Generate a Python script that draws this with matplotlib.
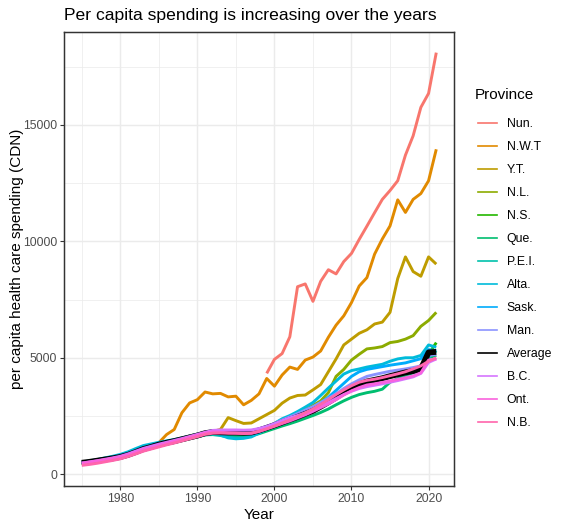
import matplotlib
matplotlib.use("Agg")
import matplotlib.pyplot as plt
from matplotlib.lines import Line2D
import numpy as np

plt.rcParams['font.family'] = ['Liberation Sans', 'DejaVu Sans']

years = list(range(1975, 2022))
nan = float('nan')

# per capita spending, 1975..2021
nun = [nan] * 24 + [4330, 4930, 5180, 5900, 8050, 8170, 7420, 8280, 8780, 8600,
                    9130, 9480, 10080, 10650, 11230, 11800, 12180, 12600, 13700,
                    14530, 15750, 16350, 18100]
nwt = [480, 530, 590, 650, 720, 800, 900, 1020, 1120, 1220,
       1350, 1700, 1920, 2640, 3060, 3200, 3530, 3450, 3470, 3320,
       3350, 2980, 3170, 3450, 4110, 3780, 4260, 4600, 4500, 4900,
       5030, 5290, 5880, 6400, 6800, 7370, 8080, 8440, 9450, 10100,
       10660, 11780, 11240, 11800, 12050, 12600, 13950]
yt = [510, 560, 620, 680, 740, 810, 900, 1020, 1140, 1230,
      1320, 1400, 1470, 1550, 1640, 1720, 1800, 1840, 1920, 2430,
      2300, 2180, 2200, 2380, 2560, 2740, 3050, 3270, 3380, 3400,
      3620, 3850, 4400, 4950, 5550, 5800, 6050, 6200, 6450, 6530,
      6950, 8400, 9330, 8700, 8500, 9330, 9020]
nl = [460, 510, 560, 620, 680, 750, 850, 970, 1090, 1180,
      1270, 1350, 1430, 1510, 1590, 1670, 1750, 1780, 1760, 1740,
      1740, 1750, 1790, 1900, 2030, 2180, 2330, 2480, 2620, 2760,
      2950, 3150, 3500, 4200, 4500, 4900, 5150, 5380, 5420, 5480,
      5650, 5700, 5800, 5950, 6350, 6600, 6950]
ns = [450, 500, 550, 600, 650, 720, 810, 930, 1060, 1150,
      1240, 1320, 1390, 1470, 1550, 1630, 1720, 1740, 1700, 1640,
      1610, 1630, 1700, 1800, 1950, 2080, 2200, 2330, 2470, 2600,
      2750, 2920, 3100, 3300, 3520, 3700, 3880, 4000, 4060, 4120,
      4200, 4250, 4330, 4420, 4550, 5150, 5650]
que = [470, 510, 560, 610, 660, 720, 800, 920, 1040, 1120,
       1210, 1290, 1360, 1440, 1520, 1600, 1690, 1720, 1700, 1680,
       1660, 1640, 1660, 1740, 1850, 1960, 2070, 2170, 2280, 2400,
       2520, 2650, 2800, 2980, 3150, 3300, 3420, 3500, 3560, 3650,
       3950, 4100, 4250, 4350, 4450, 5000, 5100]
pei = [460, 510, 570, 630, 690, 760, 860, 990, 1110, 1190,
       1270, 1330, 1400, 1470, 1540, 1610, 1690, 1700, 1660, 1600,
       1560, 1570, 1640, 1780, 1920, 2050, 2200, 2340, 2480, 2620,
       2780, 2960, 3150, 3360, 3560, 3740, 3880, 3960, 4020, 4090,
       4190, 4300, 4400, 4500, 4650, 5000, 5300]
alta = [520, 570, 630, 700, 770, 850, 960, 1100, 1230, 1300,
        1370, 1430, 1490, 1560, 1640, 1720, 1800, 1780, 1680, 1560,
        1520, 1540, 1600, 1760, 1960, 2180, 2380, 2520, 2690, 2880,
        3080, 3380, 3700, 4000, 4300, 4450, 4520, 4600, 4660, 4720,
        4850, 4950, 5000, 5000, 5100, 5550, 5450]
sask = [480, 530, 590, 650, 710, 790, 890, 1010, 1130, 1220,
        1310, 1380, 1450, 1530, 1610, 1680, 1760, 1780, 1760, 1740,
        1740, 1760, 1800, 1900, 2020, 2150, 2290, 2420, 2560, 2720,
        2880, 3070, 3300, 3600, 3900, 4200, 4400, 4500, 4560, 4620,
        4680, 4730, 4780, 4870, 4960, 5350, 5300]
man = [500, 550, 600, 650, 710, 780, 880, 1000, 1110, 1200,
       1290, 1370, 1450, 1540, 1620, 1710, 1800, 1870, 1880, 1870,
       1860, 1850, 1870, 1950, 2060, 2180, 2320, 2460, 2600, 2750,
       2900, 3080, 3260, 3450, 3680, 3880, 4050, 4200, 4280, 4350,
       4420, 4470, 4520, 4580, 4650, 5100, 5150]
average = [490, 530, 580, 630, 680, 740, 830, 950, 1080, 1170,
           1270, 1350, 1420, 1500, 1580, 1660, 1760, 1810, 1800, 1790,
           1790, 1780, 1790, 1880, 1990, 2100, 2220, 2340, 2460, 2590,
           2720, 2900, 3090, 3290, 3500, 3680, 3850, 3980, 4050, 4120,
           4210, 4290, 4370, 4430, 4520, 5230, 5250]
bc = [480, 530, 580, 640, 700, 770, 870, 990, 1110, 1200,
      1290, 1370, 1450, 1530, 1620, 1710, 1800, 1880, 1900, 1900,
      1900, 1890, 1900, 1960, 2050, 2170, 2300, 2420, 2520, 2630,
      2760, 2920, 3080, 3250, 3420, 3560, 3680, 3760, 3820, 3880,
      3950, 4020, 4100, 4180, 4330, 4800, 4950]
ont = [470, 520, 570, 620, 680, 740, 830, 940, 1060, 1140,
       1240, 1330, 1410, 1500, 1590, 1680, 1770, 1820, 1800, 1780,
       1770, 1750, 1760, 1840, 1950, 2060, 2180, 2290, 2420, 2550,
       2700, 2860, 3020, 3200, 3400, 3580, 3720, 3830, 3880, 3940,
       4000, 4070, 4140, 4220, 4350, 4900, 4950]
nb = [380, 420, 470, 530, 590, 660, 760, 870, 990, 1080,
      1170, 1260, 1340, 1430, 1520, 1610, 1710, 1760, 1770, 1760,
      1760, 1750, 1760, 1840, 1950, 2070, 2200, 2330, 2480, 2640,
      2800, 3000, 3200, 3420, 3620, 3800, 3950, 4030, 4080, 4150,
      4230, 4310, 4400, 4520, 4650, 4850, 5000]

provinces = ["Nun.", "N.W.T", "Y.T.", "N.L.", "N.S.", "Que.", "P.E.I.",
             "Alta.", "Sask.", "Man.", "Average", "B.C.", "Ont.", "N.B."]
series = [nun, nwt, yt, nl, ns, que, pei, alta, sask, man, average, bc, ont, nb]
colors = ["#F8766D", "#E18A00", "#BE9C00", "#8CAB00", "#24B700", "#00BE70",
          "#00C1AB", "#00BBDA", "#00ACFC", "#8B93FF", "black", "#D575FE",
          "#F962DD", "#FF65AC"]

fig = plt.figure(figsize=(5.65, 5.29), dpi=100)
ax = fig.add_axes([64 / 565, 1 - 486 / 529, 390 / 565, 454 / 529])

for name, vals, col in zip(provinces, series, colors):
    lw = 4.2 if name == "Average" else 2.1
    ax.plot(years, vals, color=col, lw=lw, solid_capstyle='butt', zorder=3)

# ggplot-like expansion
allv = np.array([v for s in series for v in s], dtype=float)
lo, hi = np.nanmin(allv), np.nanmax(allv)
ax.set_ylim(lo - 0.05 * (hi - lo), hi + 0.05 * (hi - lo))
ax.set_xlim(1975 - 0.05 * 46, 2021 + 0.05 * 46)

ax.set_xticks([1980, 1990, 2000, 2010, 2020])
ax.set_xticks([1975, 1985, 1995, 2005, 2015], minor=True)
ax.set_yticks([0, 5000, 10000, 15000])
ax.set_yticks([2500, 7500, 12500, 17500], minor=True)
ax.grid(which='major', color='#EBEBEB', lw=1.07, zorder=0)
ax.grid(which='minor', color='#EBEBEB', lw=0.53, zorder=0)
ax.set_axisbelow(True)
ax.tick_params(which='major', length=3.8 / 1.389, width=1.07 * 0.75, color='#333333',
               labelsize=8.8, labelcolor='#4D4D4D', pad=2.2)
ax.tick_params(which='minor', length=0)
for sp in ax.spines.values():
    sp.set_color('#333333')
    sp.set_linewidth(1.07)

ax.set_xlabel("Year", fontsize=11, labelpad=2)
ax.set_ylabel("per capita health care spending (CDN)", fontsize=11, labelpad=-1)
ax.set_title("Per capita spending is increasing over the years", loc='left',
             fontsize=12.6, pad=8.5)

handles = [Line2D([], [], color=c, lw=1.2) for c in colors]
fig.legend(handles, provinces, loc='center left',
           bbox_to_anchor=(478 / 565, 1 - 273.5 / 529), frameon=False,
           fontsize=8.8, handlelength=1.55, handletextpad=0.8,
           labelspacing=0.9, borderpad=0, borderaxespad=0)
fig.text(475 / 565, 1 - 95 / 529, "Province", fontsize=11, va='center', ha='left')

fig.savefig("out.png", dpi=100)
